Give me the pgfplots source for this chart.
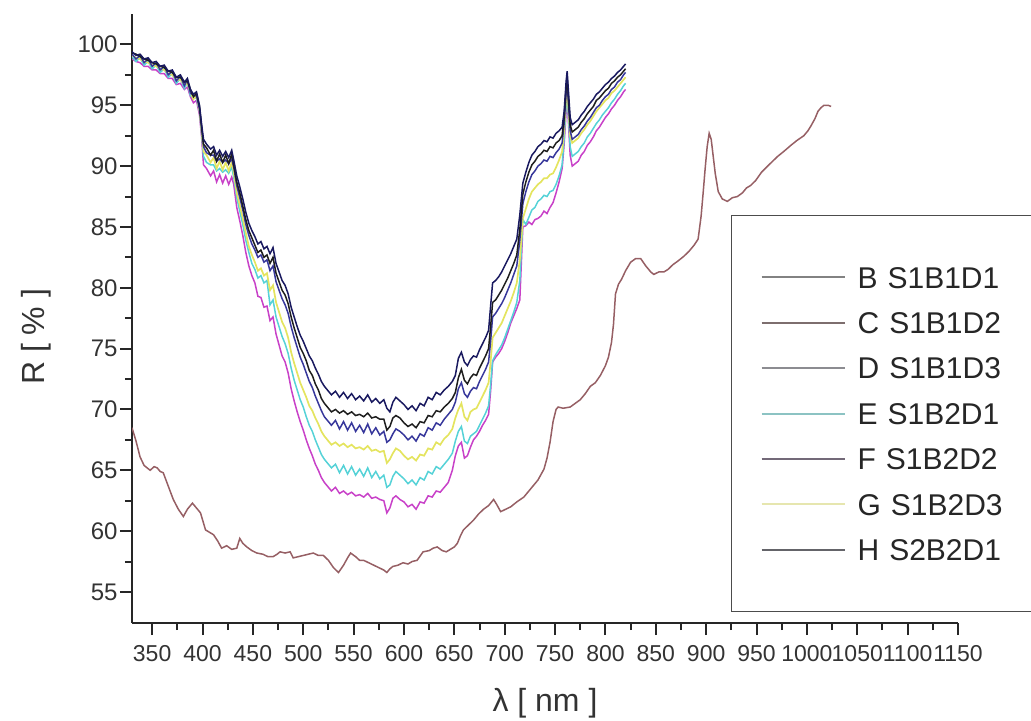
\documentclass[border=0pt]{standalone}
\usepackage{fontspec}
\setmainfont{Liberation Sans}
\usepackage{pgfplots}
\usepackage{pgfplotstable}
\pgfplotsset{compat=1.18}
\definecolor{cH}{RGB}{25,25,95}
\definecolor{cB}{RGB}{30,30,30}
\definecolor{cD}{RGB}{55,55,155}
\definecolor{cG}{RGB}{228,228,95}
\definecolor{cE}{RGB}{85,210,215}
\definecolor{cF}{RGB}{200,65,200}
\definecolor{cC}{RGB}{150,95,100}
\pgfplotstableread{
x H B D G E F
330 99.4 99.3 99.2 99.1 99.0 98.8
334 99.1 99.2 98.8 98.9 98.6 98.6
338 99.2 99.0 99.1 98.8 98.9 98.5
342 98.8 98.8 98.5 98.6 98.3 98.2
346 98.9 98.7 98.8 98.5 98.6 98.2
350 98.5 98.5 98.2 98.3 98.0 97.9
354 98.6 98.4 98.5 98.2 98.3 97.9
358 98.2 98.2 97.9 98.0 97.7 97.6
362 98.3 98.1 98.2 97.9 98.0 97.6
366 97.8 97.8 97.5 97.6 97.3 97.2
370 97.9 97.7 97.8 97.5 97.6 97.2
374 97.3 97.3 97.0 97.1 96.8 96.7
378 97.5 97.3 97.4 97.1 97.2 96.8
382 96.9 96.9 96.6 96.7 96.4 96.3
385 97.2 97.0 97.1 96.8 96.9 96.5
388 96.3 96.3 96.0 96.1 95.8 95.7
391 95.9 95.7 95.8 95.5 95.6 95.2
394 96.1 96.0 95.8 95.8 95.6 95.4
397 95.0 94.9 94.7 94.6 94.5 94.2
399 93.5 93.3 93.2 93.0 92.8 92.5
401 92.2 91.8 91.6 91.2 90.8 90.1
404 91.8 91.5 91.1 90.9 90.3 89.8
408 91.4 90.9 90.9 90.3 90.1 89.2
411 91.6 91.3 90.9 90.7 90.1 89.6
414 90.9 90.4 90.4 89.8 89.6 88.7
417 91.3 91.0 90.6 90.4 89.8 89.3
420 90.8 90.3 90.3 89.7 89.5 88.6
423 91.2 90.9 90.5 90.3 89.7 89.2
426 90.7 90.2 90.2 89.6 89.4 88.5
429 91.3 91.0 90.6 90.3 89.9 89.1
431 90.5 90.1 89.9 89.5 89.1 88.5
434 89.2 88.7 88.4 87.8 87.4 86.6
437 88.3 87.8 87.4 86.8 86.3 85.5
440 87.3 86.7 86.4 85.7 85.2 84.3
443 86.2 85.6 85.2 84.5 83.9 82.9
446 85.3 84.7 84.3 83.4 82.9 81.8
449 84.7 84.1 83.6 82.7 82.0 81.0
452 84.2 83.5 83.1 82.1 81.5 80.4
455 83.6 82.9 82.5 81.4 80.8 79.3
458 83.8 83.1 82.7 81.6 81.0 79.2
461 83.2 82.5 82.1 81.0 80.4 78.4
464 83.4 82.7 82.3 81.2 80.6 78.5
467 82.8 82.0 81.4 79.8 78.6 77.3
470 83.3 82.5 81.8 80.2 79.0 77.6
473 82.0 81.2 80.5 78.8 77.6 76.2
476 81.3 80.5 79.8 78.0 76.8 75.3
479 80.6 79.8 79.1 77.2 76.0 74.4
482 80.2 79.4 78.6 76.7 75.4 73.9
485 79.5 78.7 77.9 75.9 74.6 73.0
488 78.4 77.6 76.8 74.7 73.4 71.7
491 77.6 76.7 75.9 73.8 72.4 70.7
494 76.8 75.9 75.1 73.0 71.6 69.8
497 76.1 75.1 74.3 72.2 70.8 69.0
500 75.6 74.6 73.7 71.6 70.2 68.3
503 75.0 74.0 73.0 71.0 69.4 67.5
506 74.4 73.2 72.3 70.3 68.7 66.8
509 74.0 72.8 71.8 69.9 68.2 66.2
512 73.4 72.1 71.1 69.3 67.5 65.5
515 72.9 71.6 70.5 68.8 66.9 65.0
518 72.3 70.9 69.9 68.2 66.3 64.4
521 71.9 70.5 69.4 67.8 65.9 64.0
524 71.6 70.2 69.1 67.5 65.6 63.7
528 71.2 69.8 68.7 67.1 65.2 63.3
532 71.5 70.0 69.1 67.3 65.5 63.6
536 71.0 69.7 68.4 67.0 64.8 63.1
540 71.4 69.9 69.0 67.2 65.4 63.3
544 70.9 69.6 68.3 66.9 64.7 63.0
548 71.3 69.8 68.9 67.1 65.3 63.2
552 70.8 69.5 68.2 66.8 64.6 62.9
556 71.1 69.6 68.7 66.9 65.1 63.0
560 70.7 69.4 68.1 66.7 64.5 62.8
564 71.2 69.7 68.8 67.0 65.2 63.1
568 70.6 69.3 68.0 66.6 64.4 62.7
572 70.9 69.4 68.5 66.7 64.9 62.8
576 70.5 69.2 67.9 66.5 64.3 62.6
580 70.8 69.2 68.2 66.6 64.6 62.5
583 70.1 68.3 67.3 65.6 63.6 61.5
586 69.8 68.6 67.5 65.9 63.8 61.9
589 70.6 69.3 68.0 66.4 64.5 62.7
592 71.0 69.5 68.4 66.8 64.9 62.9
596 70.7 69.3 68.2 66.6 64.6 62.6
600 70.4 68.9 67.9 66.2 64.3 62.4
604 70.0 68.6 67.5 65.9 63.9 62.0
608 70.3 68.8 67.8 66.1 64.2 62.2
612 69.9 68.5 67.4 65.8 63.8 61.8
616 70.5 69.0 68.0 66.3 64.4 62.4
620 70.3 68.9 67.8 66.2 64.2 62.3
624 71.0 69.5 68.5 66.8 64.9 62.9
628 70.8 69.4 68.3 66.7 64.7 62.8
632 71.4 69.9 68.9 67.3 65.3 63.3
636 71.2 69.8 68.7 67.1 65.1 63.2
640 71.6 70.2 69.2 67.6 65.5 63.6
644 71.9 70.5 69.6 67.9 65.9 64.0
648 72.3 70.9 70.0 68.4 66.4 65.0
651 72.8 71.4 70.6 69.3 67.4 66.2
654 74.2 72.6 71.7 70.0 68.2 67.0
657 74.7 73.3 72.2 70.5 68.6 67.3
660 73.9 72.4 71.3 69.4 67.4 66.0
663 73.6 72.1 71.0 69.1 67.2 66.2
666 74.1 72.6 71.5 69.8 67.8 66.9
669 74.4 72.9 71.8 70.0 68.0 67.5
672 74.3 72.8 71.7 70.1 68.2 67.8
675 74.9 73.4 72.3 70.6 68.7 68.2
678 75.4 73.9 72.8 71.1 69.2 68.7
681 75.9 74.4 73.3 71.6 69.7 69.1
684 76.5 75.0 73.9 72.2 70.3 69.6
686 78.5 76.8 75.6 73.9 72.0 71.5
688 80.4 78.8 77.6 75.9 74.0 73.9
691 80.6 79.0 77.9 76.3 74.5 74.3
694 80.9 79.4 78.3 76.7 74.9 74.6
697 81.3 79.8 78.7 77.1 75.3 75.0
700 81.8 80.3 79.2 77.7 75.9 75.6
703 82.3 80.8 79.8 78.3 76.6 76.3
706 82.8 81.4 80.4 78.9 77.3 77.1
709 83.4 82.0 81.1 79.6 78.0 77.7
712 84.0 82.7 81.8 80.4 78.8 78.3
715 86.0 84.8 83.9 82.3 80.6 79.0
718 88.6 87.7 86.9 85.7 85.6 85.0
721 89.5 88.7 87.9 86.5 85.2 85.1
724 90.3 89.5 88.7 87.3 85.8 85.4
727 90.9 90.1 89.3 87.9 86.4 85.2
730 91.2 90.4 89.6 88.2 86.6 85.6
733 91.6 90.8 90.0 88.5 87.1 85.7
736 91.8 91.0 90.2 88.7 87.3 85.9
739 92.1 91.3 90.5 89.0 87.6 86.3
742 92.0 91.2 90.4 89.0 87.5 86.1
745 92.4 91.6 90.8 89.3 87.9 86.6
748 92.3 91.5 90.7 89.4 88.0 87.0
751 92.7 91.9 91.1 89.9 88.5 87.8
754 92.9 92.1 91.4 90.5 89.2 88.7
757 93.2 92.5 91.9 91.2 90.1 89.8
759 94.5 94.0 93.5 93.0 92.3 91.8
761 97.0 96.5 96.0 95.6 95.0 94.5
762 97.8 97.3 96.8 96.3 95.8 95.3
763 96.5 96.0 95.5 95.0 94.5 94.0
765 94.0 93.4 92.9 92.5 91.6 90.9
767 93.4 92.8 92.2 91.9 90.8 90.0
770 93.6 93.0 92.4 92.1 91.0 90.2
773 93.8 93.2 92.6 92.3 91.2 90.4
776 94.2 93.6 93.0 92.7 91.6 90.9
779 94.5 93.9 93.3 93.0 91.9 91.2
782 94.9 94.3 93.7 93.4 92.4 91.7
785 95.2 94.6 94.0 93.7 92.7 92.0
788 95.5 94.9 94.4 94.1 93.1 92.4
791 95.9 95.4 94.8 94.5 93.5 92.9
794 96.1 95.6 95.0 94.8 93.8 93.2
797 96.4 95.9 95.4 95.1 94.2 93.6
800 96.7 96.2 95.7 95.4 94.5 94.0
803 96.9 96.4 95.9 95.6 94.8 94.3
806 97.2 96.8 96.3 96.0 95.2 94.7
809 97.4 97.0 96.5 96.2 95.5 95.0
812 97.7 97.3 96.9 96.5 95.9 95.4
815 97.9 97.5 97.1 96.8 96.2 95.7
818 98.2 97.8 97.5 97.1 96.6 96.1
820 98.4 98.0 97.7 97.3 96.8 96.3
}\grp
\pgfplotstableread{
x C
330 68.5
334 67.4
338 66.1
342 65.4
348 65.0
352 65.3
355 65.2
358 64.9
361 64.8
366 63.7
371 62.6
376 61.8
381 61.2
385 61.8
390 62.3
394 61.9
398 61.5
403 60.1
407 59.9
411 59.7
415 59.2
419 58.6
424 58.8
429 58.5
434 58.6
437 59.4
440 59.0
444 58.7
449 58.4
454 58.2
460 58.1
465 57.9
470 57.9
474 58.1
477 58.3
482 58.2
487 58.3
490 57.8
495 57.9
500 58.0
505 58.1
510 58.2
515 58.0
520 58.0
525 57.6
530 57.0
535 56.6
540 57.2
544 57.8
547 58.2
552 57.9
556 57.6
560 57.6
565 57.4
570 57.2
575 57.0
580 56.8
583 56.6
586 56.9
589 57.1
594 57.2
599 57.4
604 57.3
608 57.5
613 57.6
619 58.3
625 58.4
629 58.6
633 58.7
638 58.4
642 58.3
646 58.5
650 58.7
653 59.0
656 59.6
659 60.1
664 60.5
669 60.9
674 61.4
679 61.8
684 62.1
689 62.6
692 62.2
696 61.6
701 61.8
706 62.0
712 62.4
719 62.8
726 63.5
733 64.2
739 65.1
742 66.0
745 67.3
748 69.0
751 70.0
753 70.2
758 70.1
765 70.2
770 70.5
775 70.8
780 71.3
785 71.9
790 72.2
795 72.8
800 73.6
803 74.3
806 75.5
808 77.0
810 79.5
813 80.3
816 80.7
820 81.4
825 82.1
830 82.4
835 82.4
840 81.8
845 81.3
848 81.1
853 81.3
858 81.3
862 81.5
867 81.9
872 82.2
878 82.6
883 83.0
888 83.5
892 84.0
895 85.9
897 87.8
899 89.8
901 91.6
903 92.7
905 92.2
907 90.8
909 89.4
912 87.9
916 87.3
921 87.1
926 87.4
931 87.5
936 87.8
940 88.2
944 88.4
949 88.8
955 89.5
961 90.0
966 90.4
971 90.8
977 91.2
984 91.7
990 92.1
997 92.5
1001 92.9
1004 93.3
1008 93.9
1011 94.5
1014 94.8
1017 95.0
1021 95.0
1024 94.9
}\cdat
\begin{document}
\begin{tikzpicture}
\useasboundingbox (-66pt,-49pt) rectangle (449.5pt,311.5pt);
\begin{axis}[
  at={(0pt,0pt)}, anchor=south west,
  scale only axis, width=413pt, height=304.5pt,
  xmin=330, xmax=1150, ymin=52.45, ymax=102.5,
  axis lines=left, axis line style={-, line width=1.2pt, black!85},
  xtick={350,400,...,1150}, ytick={55,60,...,100},
  minor x tick num=1, minor y tick num=1,
  tick align=outside, major tick length=6pt, minor tick length=3.5pt,
  every tick/.style={line width=1pt, black!85},
  /pgf/number format/assume math mode=true,
  /pgf/number format/1000 sep={},
  xticklabel style={font=\fontsize{11.5}{12}\selectfont, text=black!80, inner ysep=5pt},
  yticklabel style={font=\fontsize{12}{13}\selectfont, text=black!80, inner xsep=1pt},
  xlabel={λ [ nm ]}, ylabel={R [ \% ]},
  xlabel style={at={(axis description cs:0.5,-0.131)}, anchor=center, font=\fontsize{16}{18}\selectfont, text=black!80},
  ylabel style={at={(axis description cs:-0.116,0.47)}, anchor=center, font=\fontsize{16}{18}\selectfont, text=black!80},
  legend cell align=left,
  legend image code/.code={\draw[#1] (0pt,0pt) -- (41.5pt,0pt);},
  legend style={at={(axis description cs:0.725,0.670)}, anchor=north west,
    draw=black!70, line width=0.75pt, fill=white,
    inner xsep=14.5pt, inner ysep=25.5pt, row sep=12pt, column sep=6pt,
    font=\fontsize{15}{16}\selectfont, text=black!85,
    nodes={inner sep=0pt, text height=10.7pt, text depth=0pt, text width=80pt}},
]
\addplot[cC, line width=0.75pt, forget plot] table[x=x, y=C] {\cdat};
\addplot[cF, line width=0.75pt, forget plot] table[x=x, y=F] {\grp};
\addplot[cE, line width=0.75pt, forget plot] table[x=x, y=E] {\grp};
\addplot[cG, line width=0.85pt, forget plot] table[x=x, y=G] {\grp};
\addplot[cD, line width=0.75pt, forget plot] table[x=x, y=D] {\grp};
\addplot[cB, line width=0.75pt, forget plot] table[x=x, y=B] {\grp};
\addplot[cH, line width=0.75pt, forget plot] table[x=x, y=H] {\grp};
\addlegendimage{color={rgb,255:red,130;green,130;blue,130}, line width=1pt}
\addlegendentry{B S1B1D1}
\addlegendimage{color={rgb,255:red,125;green,110;blue,110}, line width=1pt}
\addlegendentry{C S1B1D2}
\addlegendimage{color={rgb,255:red,140;green,140;blue,145}, line width=1pt}
\addlegendentry{D S1B1D3}
\addlegendimage{color={rgb,255:red,140;green,195;blue,195}, line width=1pt}
\addlegendentry{E S1B2D1}
\addlegendimage{color={rgb,255:red,115;green,105;blue,120}, line width=1pt}
\addlegendentry{F S1B2D2}
\addlegendimage{color={rgb,255:red,230;green,230;blue,175}, line width=1pt}
\addlegendentry{G S1B2D3}
\addlegendimage{color={rgb,255:red,100;green,100;blue,105}, line width=1pt}
\addlegendentry{H S2B2D1}
\end{axis}
\end{tikzpicture}
\end{document}
